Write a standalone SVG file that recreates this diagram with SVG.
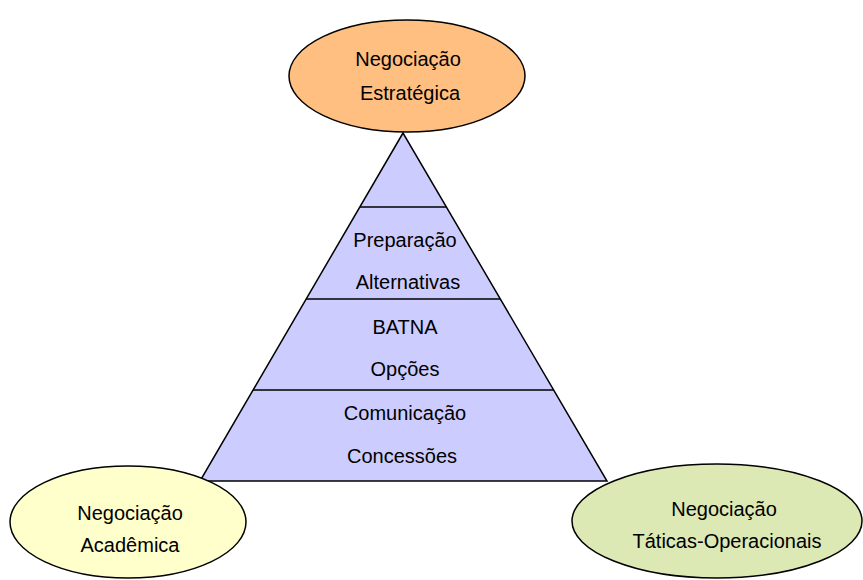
<svg xmlns="http://www.w3.org/2000/svg" width="863" height="580" viewBox="0 0 863 580">
<style>
.lbl{font-family:"Liberation Sans",Arial,sans-serif;font-size:20px;fill:#000;text-anchor:middle}
.ol{stroke:#000;stroke-width:1.5}
</style>
<rect width="863" height="580" fill="#fff"/>
<g id="pyramid">
<polygon class="ol" points="403,133 200,481 607,481" fill="#CCCCFF"/>
<line class="ol" x1="360" y1="207" x2="446" y2="207"/>
<line class="ol" x1="306" y1="299" x2="500" y2="299"/>
<line class="ol" x1="253" y1="390" x2="554" y2="390"/>
<text class="lbl" x="405" y="247">Preparação</text>
<text class="lbl" x="408" y="289">Alternativas</text>
<text class="lbl" x="405" y="334">BATNA</text>
<text class="lbl" x="405" y="376">Opções</text>
<text class="lbl" x="405" y="420">Comunicação</text>
<text class="lbl" x="402" y="463">Concessões</text>
</g>
<g id="estrategica">
<ellipse class="ol" cx="407" cy="76" rx="118" ry="56" fill="#FFBF80"/>
<text class="lbl" x="408" y="66">Negociação</text>
<text class="lbl" x="410" y="100">Estratégica</text>
</g>
<g id="academica">
<ellipse class="ol" cx="128" cy="522" rx="118" ry="56" fill="#FFFFCC"/>
<text class="lbl" x="130" y="520">Negociação</text>
<text class="lbl" x="130" y="552">Acadêmica</text>
</g>
<g id="taticas">
<ellipse class="ol" cx="717" cy="521" rx="145" ry="57" fill="#DCE9B4"/>
<text class="lbl" x="724" y="516">Negociação</text>
<text class="lbl" x="727" y="548">Táticas-Operacionais</text>
</g>
<g id="connectors"/>
</svg>
